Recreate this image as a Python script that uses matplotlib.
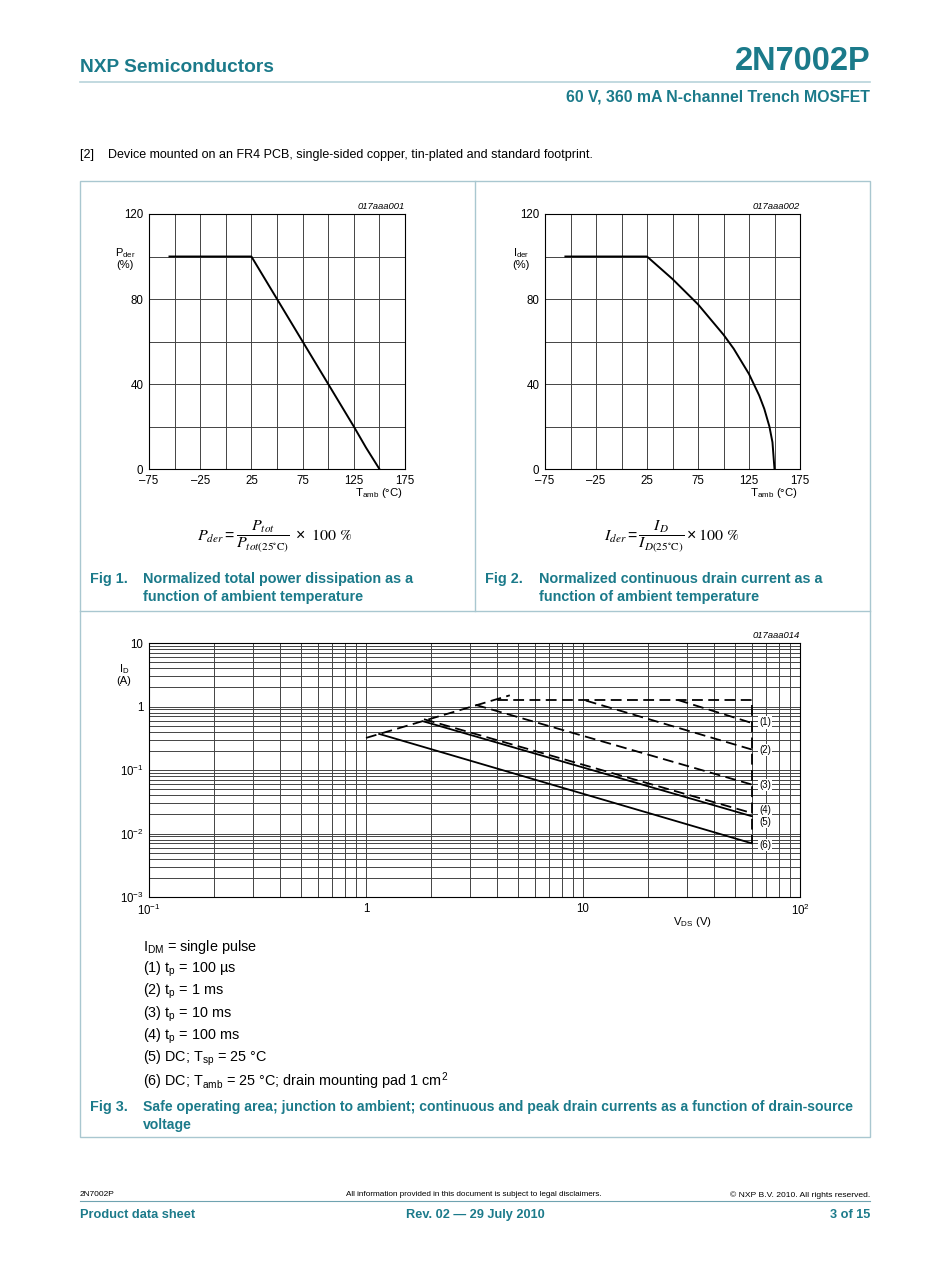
import matplotlib
matplotlib.use("Agg")
import matplotlib.pyplot as plt
from matplotlib.lines import Line2D
from matplotlib.patches import Rectangle

plt.rcParams['font.family'] = ['Liberation Sans', 'DejaVu Sans']
plt.rcParams['mathtext.default'] = 'regular'

W, H = 950, 1267
TEAL = '#1b7a8a'
FRAME = '#a9c7d0'
GRID = '#444444'

# Fig 1: normalized total power dissipation
pder_temp = [-55, 25, 75, 125, 137, 150]
pder_pct = [100, 100, 60, 20, 10, 0]

# Fig 2: normalized continuous drain current
ider_temp = [-55, 25, 50, 75, 100, 110, 125, 135, 140, 145, 148, 150]
ider_pct = [100, 100, 89.4, 77.5, 63.2, 56.6, 44.7, 34.6, 28.3, 20, 12.6, 0]

temp_ticks = [-75, -25, 25, 75, 125, 175]
temp_labels = ['\u201375', '\u201325', '25', '75', '125', '175']
pct_ticks = [0, 40, 80, 120]

# Fig 3: safe operating area (V, A)
limit_v = [1.0, 4.6]
limit_i = [0.32, 1.5]
outline_v = [4.0, 60, 60]
outline_i = [1.27, 1.27, 0.0072]
soa_curves = {
    '(1)': ([27.3, 60], [1.27, 0.55], 'dash'),
    '(2)': ([10.3, 60], [1.24, 0.21], 'dash'),
    '(3)': ([3.2, 60], [1.06, 0.059], 'dash'),
    '(4)': ([1.85, 60], [0.63, 0.021], 'dash'),
    '(5)': ([1.85, 60], [0.58, 0.0187], 'solid'),
    '(6)': ([1.15, 60], [0.37, 0.0070], 'solid'),
}
label_i = {'(1)': 0.56, '(2)': 0.205, '(3)': 0.058, '(4)': 0.0235,
           '(5)': 0.0152, '(6)': 0.0066}
soa_xticks = [0.1, 1, 10, 100]
soa_xlabels = ['10$^{-1}$', '1', '10', '10$^2$']
soa_yticks = [0.001, 0.01, 0.1, 1, 10]
soa_ylabels = ['10$^{-3}$', '10$^{-2}$', '10$^{-1}$', '1', '10']

legend_lines = [
    'I$_{DM}$ = single pulse',
    '(1) t$_p$ = 100 \u00b5s',
    '(2) t$_p$ = 1 ms',
    '(3) t$_p$ = 10 ms',
    '(4) t$_p$ = 100 ms',
    '(5) DC; T$_{sp}$ = 25 \u00b0C',
    '(6) DC; T$_{amb}$ = 25 \u00b0C; drain mounting pad 1 cm$^2$',
]

fig = plt.figure(figsize=(W / 100, H / 100), dpi=100)


def fx(x):
    return x / W


def fy(y):
    return 1 - y / H


def txt(x, y, s, **kw):
    kw.setdefault('va', 'center')
    fig.text(fx(x), fy(y), s, **kw)


def hline(x0, x1, y, color=FRAME, lw=1.0):
    fig.add_artist(Line2D([fx(x0), fx(x1)], [fy(y), fy(y)], color=color, lw=lw))


def vline(x, y0, y1, color=FRAME, lw=1.0):
    fig.add_artist(Line2D([fx(x), fx(x)], [fy(y0), fy(y1)], color=color, lw=lw))


def add_ax(l, t, r, b):
    return fig.add_axes([fx(l), fy(b), fx(r - l), (b - t) / H])


# header
txt(80, 67, 'NXP Semiconductors', color=TEAL, fontsize=13.8, fontweight='bold')
txt(870, 62, '2N7002P', color=TEAL, fontsize=23.5, fontweight='bold', ha='right')
hline(80, 870, 82, color='#b7d3da', lw=1.2)
txt(870, 97, '60 V, 360 mA N-channel Trench MOSFET', color=TEAL, fontsize=11.4,
    fontweight='bold', ha='right')
txt(80, 155, '[2]    Device mounted on an FR4 PCB, single-sided copper, tin-plated and standard footprint.',
    fontsize=9)

# frame
fig.add_artist(Rectangle((fx(80), fy(1137)), fx(790), (1137 - 181) / H,
                         fill=False, edgecolor=FRAME, lw=1.0))
vline(475, 181, 611)
hline(80, 870, 611)


def derating(l, r, temp, pct, code, ylab):
    ax = add_ax(l, 214, r, 469)
    ax.plot(temp, pct, color='black', lw=1.4)
    ax.set_xlim(-75, 175)
    ax.set_ylim(0, 120)
    ax.set_xticks(range(-75, 176, 25), minor=True)
    ax.set_yticks(range(0, 121, 20), minor=True)
    ax.set_xticks(temp_ticks)
    ax.set_xticklabels(temp_labels)
    ax.set_yticks(pct_ticks)
    ax.grid(True, which='both', color=GRID, lw=0.7)
    ax.tick_params(which='both', length=0, labelsize=8.3, pad=4)
    for s in ax.spines.values():
        s.set_linewidth(0.8)
    ax.text(1.0, 1.012, code, transform=ax.transAxes, ha='right', va='bottom',
            fontsize=6.8, style='italic')
    txt(l - 24, 258, ylab, fontsize=8, ha='center', linespacing=1.1)
    txt(r - 2, 493, 'T$_{amb}$ (\u00b0C)', fontsize=8.2, ha='right')
    return ax


derating(149, 405, pder_temp, pder_pct, '017aaa001', 'P$_{der}$\n(%)')
derating(545, 800, ider_temp, ider_pct, '017aaa002', 'I$_{der}$\n(%)')

txt(275, 537,
    r'$\mathit{P}_{\mathit{der}} = \dfrac{\mathit{P}_{\mathit{tot}}}'
    r'{\mathit{P}_{\mathit{tot}\mathrm{(25^{\circ}C)}}}\ \times\ \mathrm{100\ \%}$',
    fontsize=11.5, ha='center', math_fontfamily='stix')
txt(672, 537,
    r'$\mathit{I}_{\mathit{der}} = \dfrac{\mathit{I}_{\mathit{D}}}'
    r'{\mathit{I}_{\mathit{D}\mathrm{(25^{\circ}C)}}} \times \mathrm{100\ \%}$',
    fontsize=11.5, ha='center', math_fontfamily='stix')

CAP = 10.4
txt(90, 579, 'Fig 1.', color=TEAL, fontsize=CAP, fontweight='bold')
txt(143, 579, 'Normalized total power dissipation as a', color=TEAL, fontsize=CAP, fontweight='bold')
txt(143, 597, 'function of ambient temperature', color=TEAL, fontsize=CAP, fontweight='bold')
txt(485, 579, 'Fig 2.', color=TEAL, fontsize=CAP, fontweight='bold')
txt(539, 579, 'Normalized continuous drain current as a', color=TEAL, fontsize=CAP, fontweight='bold')
txt(539, 597, 'function of ambient temperature', color=TEAL, fontsize=CAP, fontweight='bold')

# SOA chart
ax = add_ax(149, 643, 800, 897)
ax.set_xscale('log')
ax.set_yscale('log')
ax.set_xlim(0.1, 100)
ax.set_ylim(0.001, 10)
dash = (0, (6, 3))
ax.plot(limit_v, limit_i, color='black', lw=1.3, linestyle=dash)
ax.plot(outline_v, outline_i, color='black', lw=1.3, linestyle=dash)
for name, (v, i, style) in soa_curves.items():
    ax.plot(v, i, color='black', lw=1.3, linestyle=dash if style == 'dash' else '-')
    ax.text(69, label_i[name], name, fontsize=7, ha='center', va='center',
            bbox=dict(facecolor='white', edgecolor='none', pad=0.8))
ax.set_xticks(soa_xticks)
ax.set_xticklabels(soa_xlabels)
ax.set_yticks(soa_yticks)
ax.set_yticklabels(soa_ylabels)
ax.grid(True, which='both', color=GRID, lw=0.7)
ax.tick_params(which='both', length=0, labelsize=8.3, pad=4)
for s in ax.spines.values():
    s.set_linewidth(0.8)
ax.text(1.0, 1.012, '017aaa014', transform=ax.transAxes, ha='right', va='bottom',
        fontsize=6.8, style='italic')
txt(124, 674, 'I$_D$\n(A)', fontsize=8, ha='center', linespacing=1.1)
txt(712, 922, 'V$_{DS}$ (V)', fontsize=8.2, ha='right')

for k, line in enumerate(legend_lines):
    txt(143, 947 + k * 22.3, line, fontsize=10.4)

txt(90, 1107, 'Fig 3.', color=TEAL, fontsize=CAP, fontweight='bold')
txt(143, 1107, 'Safe operating area; junction to ambient; continuous and peak drain currents as a function of drain-source',
    color=TEAL, fontsize=10.1, fontweight='bold')
txt(143, 1125, 'voltage', color=TEAL, fontsize=10.1, fontweight='bold')

# footer
txt(80, 1195, '2N7002P', fontsize=6)
txt(474, 1195, 'All information provided in this document is subject to legal disclaimers.',
    fontsize=5.9, ha='center')
txt(870, 1195, '\u00a9 NXP B.V. 2010. All rights reserved.', fontsize=6.1, ha='right')
hline(80, 870, 1201, color='#6fa3b0', lw=0.8)
txt(80, 1215, 'Product data sheet', color=TEAL, fontsize=9.2, fontweight='bold')
txt(475, 1215, 'Rev. 02 \u2014 29 July 2010', color=TEAL, fontsize=9.2, fontweight='bold', ha='center')
txt(870, 1215, '3 of 15', color=TEAL, fontsize=9.2, fontweight='bold', ha='right')

fig.savefig('out.png', dpi=100)
